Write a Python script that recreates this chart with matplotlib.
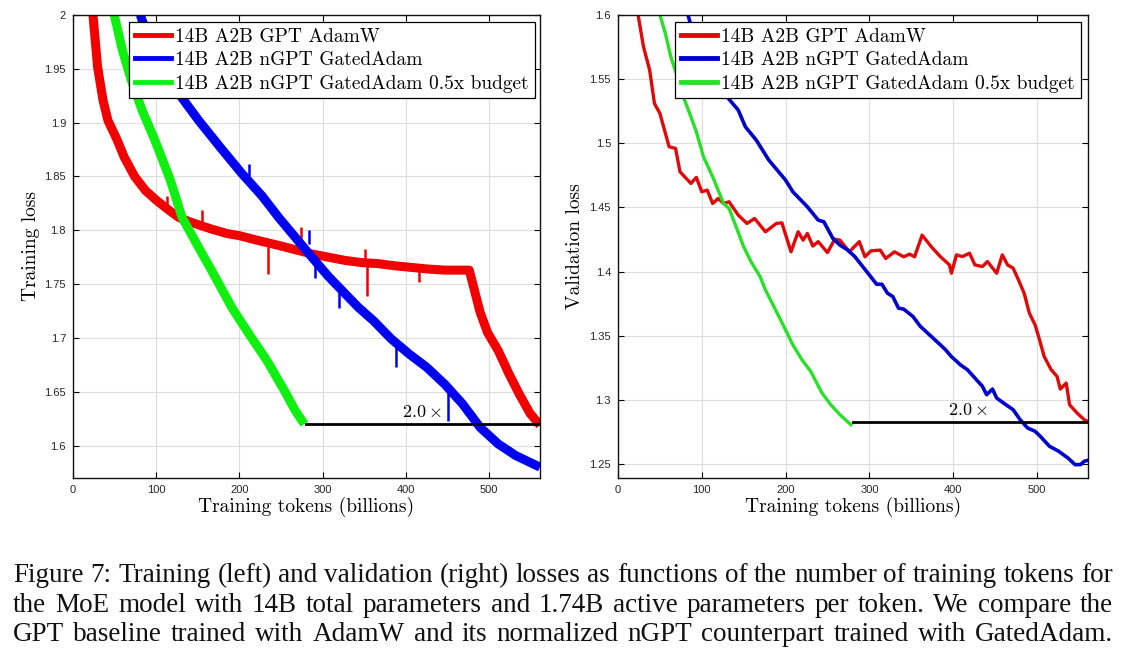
import matplotlib
matplotlib.use('Agg')
import matplotlib.pyplot as plt
from matplotlib.font_manager import FontProperties
from matplotlib.lines import Line2D

plt.rcParams['mathtext.fontset'] = 'cm'

# ---------------- data ----------------
series_names = ['14B A2B GPT AdamW', '14B A2B nGPT GatedAdam',
                '14B A2B nGPT GatedAdam 0.5x budget']

x_ticks = [0, 100, 200, 300, 400, 500]
x_tick_labels = ['0', '100', '200', '300', '400', '500']
train_y_ticks = [1.6, 1.65, 1.7, 1.75, 1.8, 1.85, 1.9, 1.95, 2.0]
train_y_tick_labels = ['1.6', '1.65', '1.7', '1.75', '1.8', '1.85', '1.9', '1.95', '2']
val_y_ticks = [1.25, 1.3, 1.35, 1.4, 1.45, 1.5, 1.55, 1.6]
val_y_tick_labels = ['1.25', '1.3', '1.35', '1.4', '1.45', '1.5', '1.55', '1.6']

# training loss (left)
train_gpt_x = [24, 29.5, 36, 42, 53, 61.5, 74, 87, 100, 113, 127, 140, 155, 167, 185, 200,
               220, 247, 267, 287, 307, 327, 347, 367, 387, 407, 427, 447, 465, 476,
               481, 489, 498, 511, 523.5, 536, 549, 561]
train_gpt_y = [2.0, 1.952, 1.921, 1.902, 1.884, 1.868, 1.850, 1.837, 1.828, 1.820, 1.812,
               1.808, 1.804, 1.801, 1.797, 1.795, 1.791, 1.786, 1.782, 1.778, 1.775, 1.772,
               1.770, 1.769, 1.767, 1.7655, 1.764, 1.763, 1.763, 1.763,
               1.748, 1.724, 1.705, 1.688, 1.667, 1.648, 1.630, 1.619]
train_gpt_spike_x = [113, 155, 234.4, 274.4, 351, 353, 416]
train_gpt_spike_lo = [1.818, 1.806, 1.759, 1.780, 1.771, 1.739, 1.752]
train_gpt_spike_hi = [1.832, 1.819, 1.787, 1.803, 1.783, 1.771, 1.766]

train_ngpt_x = [80.8, 91.5, 108.5, 130, 151, 177, 202.6, 227, 247, 267, 287, 307, 327, 343,
                361, 382.5, 404, 425, 446.6, 468, 489, 510.7, 532, 561]
train_ngpt_y = [2.0, 1.977, 1.952, 1.924, 1.902, 1.877, 1.853, 1.832, 1.812, 1.7935, 1.775,
                1.757, 1.741, 1.7283, 1.716, 1.699, 1.685, 1.6727, 1.657, 1.6387, 1.617,
                1.6016, 1.5907, 1.580]
train_ngpt_spike_x = [212, 283, 291, 319, 388, 450]
train_ngpt_spike_lo = [1.850, 1.787, 1.756, 1.728, 1.673, 1.623]
train_ngpt_spike_hi = [1.862, 1.800, 1.772, 1.748, 1.695, 1.654]

train_half_x = [49.6, 59.4, 70, 83, 100, 117, 131, 151, 167, 191, 211.5, 233, 254, 267, 278]
train_half_y = [2.0, 1.967, 1.9395, 1.9116, 1.8806, 1.8465, 1.812, 1.784, 1.762, 1.728,
                1.7036, 1.679, 1.651, 1.6325, 1.620]

train_ref_x = [280, 561]
train_ref_y = [1.620, 1.620]
train_ratio_pos = (419, 1.631)

# validation loss (right)
val_gpt_x = [24, 30.4, 37.8, 43.5, 50, 61, 68.7, 74, 87, 93.5, 100, 106.5, 113, 119.6, 126,
             132.6, 143.5, 154, 163, 176, 189, 195.6, 206.5, 215, 221, 226, 232.6, 239, 250,
             258.7, 265, 276, 288, 294.8, 302, 313, 319.6, 330, 341, 348, 354, 363, 374, 385,
             395.6, 398, 404, 411, 419.6, 426, 435, 441, 452, 458.7, 465, 471.7, 478, 484.8,
             491, 497.8, 502, 508.7, 517, 524, 528, 535, 539, 548, 556.5, 561]
val_gpt_y = [1.6, 1.5753, 1.557, 1.531, 1.5233, 1.4973, 1.496, 1.4778, 1.4687, 1.4734,
             1.4622, 1.4635, 1.4531, 1.457, 1.4531, 1.4544, 1.444, 1.4375, 1.4414, 1.431,
             1.4375, 1.438, 1.4154, 1.431, 1.4245, 1.4297, 1.4199, 1.4233, 1.4148, 1.4252,
             1.4245, 1.4154, 1.4233, 1.4115, 1.4162, 1.4167, 1.4102, 1.4154, 1.4115, 1.4136,
             1.4115, 1.4284, 1.4193, 1.4115, 1.4052, 1.3987, 1.413, 1.4117, 1.4143, 1.4052,
             1.4039, 1.4078, 1.3987, 1.413, 1.4052, 1.4026, 1.3935, 1.3831, 1.3676, 1.3585,
             1.3494, 1.3338, 1.3235, 1.3183, 1.3084, 1.3131, 1.2962, 1.2897, 1.2845, 1.283]

val_ngpt_x = [83.5, 91, 100, 113, 130, 143.5, 152, 165, 180, 200, 208.7, 226, 239, 245.7,
              256.5, 265, 274, 282.6, 300, 308.7, 315, 321.7, 328, 334.8, 341, 352, 361,
              369.6, 382.6, 391, 397.8, 408.7, 417, 426, 435, 440, 447, 452, 463, 471.7, 480,
              489, 497.8, 504, 515, 526, 537, 545.6, 552, 556.5, 561]
val_ngpt_y = [1.6, 1.5831, 1.5675, 1.5493, 1.5363, 1.5259, 1.5129, 1.5025, 1.4869, 1.4713,
              1.4622, 1.4505, 1.4401, 1.4388, 1.4258, 1.4206, 1.4169, 1.4117, 1.3974, 1.3901,
              1.3901, 1.3831, 1.3805, 1.3715, 1.3707, 1.365, 1.3572, 1.352, 1.3442, 1.339,
              1.3338, 1.3273, 1.3235, 1.317, 1.3105, 1.304, 1.3084, 1.3014, 1.2962, 1.2923,
              1.2845, 1.278, 1.2755, 1.2716, 1.2638, 1.2599, 1.2547, 1.2495, 1.2495, 1.2521,
              1.2529]

val_half_x = [50, 56.5, 63, 69.6, 78, 87, 93.5, 102, 113, 126, 132.6, 141, 150, 158.7, 169.6,
              176, 187, 198, 208.7, 219.6, 230, 243.5, 254, 265, 278]
val_half_y = [1.6, 1.5857, 1.5675, 1.5545, 1.5363, 1.5207, 1.509, 1.4895, 1.4739, 1.4531,
              1.4492, 1.4349, 1.4193, 1.4078, 1.3961, 1.3857, 1.3715, 1.3572, 1.3429, 1.3312,
              1.3222, 1.3053, 1.2962, 1.2884, 1.2806]

val_ref_x = [280, 561]
val_ref_y = [1.283, 1.283]
val_ratio_pos = (417, 1.2923)
ratio_label = r'$2.0\times$'

caption_lines = [
    "Figure 7: Training (left) and validation (right) losses as functions of the number of training tokens for",
    "the MoE model with 14B total parameters and 1.74B active parameters per token. We compare the",
    "GPT baseline trained with AdamW and its normalized nGPT counterpart trained with GatedAdam.",
]

# ---------------- figure ----------------
W, H = 1129, 657
fig = plt.figure(figsize=(W / 100, H / 100), dpi=100)
fig.patch.set_facecolor('white')

ax1 = fig.add_axes([73 / W, 1 - 477.7 / H, 467 / W, 462.7 / H])
ax2 = fig.add_axes([618 / W, 1 - 477.7 / H, 470 / W, 462.7 / H])

c_train = ['#f20000', '#0000f0', '#10f010']
c_val = ['#e00808', '#0000cc', '#28e028']

serif = 'cmr10'
tick_font = 'Liberation Sans'


def style(ax, yticks, ylabels, ylim, ylabel, ylabel_x):
    ax.set_xlim(0, 561)
    ax.set_ylim(*ylim)
    ax.set_xticks(x_ticks)
    ax.set_xticklabels(x_tick_labels)
    ax.set_yticks(yticks)
    ax.set_yticklabels(ylabels)
    ax.tick_params(direction='in', top=True, right=True, length=4, width=0.8,
                   labelsize=8, labelcolor='#262626', pad=5)
    for lab in ax.get_xticklabels() + ax.get_yticklabels():
        lab.set_fontfamily(tick_font)
    ax.grid(True, color='#dddddd', lw=0.8)
    ax.set_axisbelow(True)
    for sp in ax.spines.values():
        sp.set_linewidth(1.0)
        sp.set_color('#111111')
    ax.set_xlabel('Training tokens (billions)', fontfamily=serif, fontsize=14)
    ax.xaxis.set_label_coords(0.5, -0.042)
    ax.xaxis.label.set_va('top')
    ax.set_ylabel(ylabel, fontfamily=serif, fontsize=14)
    ax.yaxis.set_label_coords(ylabel_x, 0.5)


# left: training
ax1.plot(train_gpt_x, train_gpt_y, color=c_train[0], lw=6.5, solid_capstyle='butt')
ax1.vlines(train_gpt_spike_x, train_gpt_spike_lo, train_gpt_spike_hi, color=c_train[0], lw=1.8)
ax1.plot(train_half_x, train_half_y, color=c_train[2], lw=6.5, solid_capstyle='butt')
ax1.plot(train_ngpt_x, train_ngpt_y, color=c_train[1], lw=6.5, solid_capstyle='butt')
ax1.vlines(train_ngpt_spike_x, train_ngpt_spike_lo, train_ngpt_spike_hi, color=c_train[1], lw=1.8)
ax1.plot(train_ref_x, train_ref_y, color='black', lw=2)
ax1.text(train_ratio_pos[0], train_ratio_pos[1], ratio_label, fontsize=13, ha='center', va='center')
style(ax1, train_y_ticks, train_y_tick_labels, (1.5702, 2.0), 'Training loss', -0.071)

# right: validation
ax2.plot(val_gpt_x, val_gpt_y, color=c_val[0], lw=2.4)
ax2.plot(val_ngpt_x, val_ngpt_y, color=c_val[1], lw=2.6)
ax2.plot(val_half_x, val_half_y, color=c_val[2], lw=2.4)
ax2.plot(val_ref_x, val_ref_y, color='black', lw=2)
ax2.text(val_ratio_pos[0], val_ratio_pos[1], ratio_label, fontsize=13, ha='center', va='center')
style(ax2, val_y_ticks, val_y_tick_labels, (1.2393, 1.6), 'Validation loss', -0.073)

leg_prop = FontProperties(family=serif, size=14)
for ax, cols, anchor in [(ax1, c_train, (0.989, 0.985)), (ax2, c_val, (0.985, 0.985))]:
    handles = [Line2D([], [], color=c, lw=3.5) for c in cols]
    leg = ax.legend(handles, series_names, loc='upper right', bbox_to_anchor=anchor,
                    borderaxespad=0, prop=leg_prop, fancybox=False, framealpha=1,
                    edgecolor='black', handlelength=1.85, handletextpad=0.25,
                    labelspacing=0.28, borderpad=0.3)
    leg.get_frame().set_linewidth(0.9)

# caption, fully justified; size chosen so that line 1 fills the width
fig.canvas.draw()
renderer = fig.canvas.get_renderer()
x0, x1 = 13, 1113
cap_font = 'Liberation Serif'
probe = fig.text(0, 0, caption_lines[0], fontfamily=cap_font, fontsize=16)
nat = probe.get_window_extent(renderer).width
probe.remove()
cap_size = 16 * (x1 - x0) / nat
baselines = [582, 612, 641]
for line, base in zip(caption_lines, baselines):
    words = line.split(' ')
    texts = [fig.text(0, 1 - base / H, w, fontfamily=cap_font, fontsize=cap_size,
                      va='baseline', ha='left', color='#111111') for w in words]
    widths = [t.get_window_extent(renderer).width for t in texts]
    gap = (x1 - x0 - sum(widths)) / (len(words) - 1)
    x = x0
    for t, w in zip(texts, widths):
        t.set_x(x / W)
        x += w + gap

fig.savefig('out.png', dpi=100)
